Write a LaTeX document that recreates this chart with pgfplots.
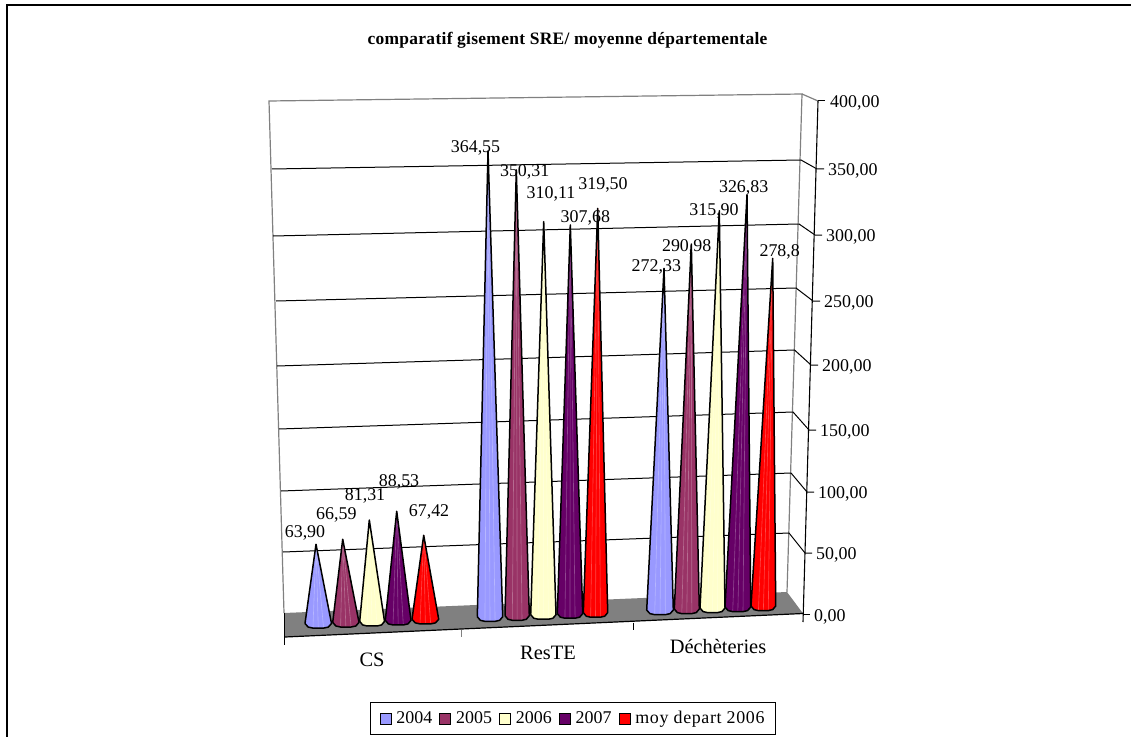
\documentclass[border=0pt]{standalone}
\usepackage{fontspec}
\setmainfont{Liberation Serif}
\usepackage{pgfplots}
\pgfplotsset{compat=1.18}

\definecolor{c2004}{HTML}{9999FF}
\definecolor{c2005}{HTML}{993366}
\definecolor{c2006}{HTML}{FFFFCC}
\definecolor{c2007}{HTML}{660066}
\definecolor{cmoy}{HTML}{FF0000}
\definecolor{wallgray}{HTML}{808080}

\newcommand{\lab}{\fontsize{18}{20}\selectfont}
\newcommand{\catlab}{\fontsize{20.5}{22}\selectfont}

\pgfplotsset{
  flat/.style={
    scale only axis, width=1131bp, height=737bp, axis lines=none,
    xmin=0, xmax=1131, clip=false, ticks=none
  }
}

% one cone: colour, pixel row of value 0, base left, base right, tip x, value,
% label text, label x, label row
\newcommand{\cone}[9]{%
  \pgfmathsetmacro\csh{613-#2}%
  \pgfmathsetmacro\cw{#4-#3}%
  \pgfmathsetmacro\cyc{623.5-0.0393*((#3+#4)/2-318)}%
  \pgfmathsetmacro\cb{(#2-\cyc)/1.28}%
  \pgfmathsetmacro\cbm{\cb-2.8}%
  \pgfmathsetmacro\cbl{\cb-3.6}%
  \pgfmathsetmacro\xa{#3+0.12*\cw}%
  \pgfmathsetmacro\xb{#3+0.30*\cw}%
  \pgfmathsetmacro\xc{#3+0.70*\cw}%
  \pgfmathsetmacro\xd{#3+0.88*\cw}%
  \pgfmathsetmacro\xm{#3+0.50*\cw}%
  \edef\tmp{\noexpand\addplot[forget plot, draw=none, fill=#1, yshift=\csh bp] coordinates {
    (#3,\cb) (\xa,\cbm) (\xb,\cbl) (\xc,\cbl) (\xd,\cbm) (#4,\cb) (#5,#6) (#3,\cb)};
    \noexpand\addplot[forget plot, draw=#1!72!white, line width=0.6bp, yshift=\csh bp] coordinates {
    (\xb,\cbl) (#5,#6)};
    \noexpand\addplot[forget plot, draw=#1!72!white, line width=0.6bp, yshift=\csh bp] coordinates {
    (\xm,\cbl) (#5,#6)};
    \noexpand\addplot[forget plot, draw=#1!72!white, line width=0.6bp, yshift=\csh bp] coordinates {
    (\xc,\cbl) (#5,#6)};
    \noexpand\addplot[forget plot, draw=black, line width=1.5bp, line join=round, yshift=\csh bp] coordinates {
    (#3,\cb) (\xa,\cbm) (\xb,\cbl) (\xc,\cbl) (\xd,\cbm) (#4,\cb) (#5,#6) (#3,\cb)};}%
  \tmp
  \node[font=\lab, inner sep=0pt] at (axis cs:#8,{(613-#9-1.5)/1.28}) {#7};
}

\begin{document}
\begin{tikzpicture}
\useasboundingbox (0,0) rectangle (1131bp,737bp);

% frame, walls, floor, grid and right hand axis, in pixels of the picture
\begin{axis}[flat, ymin=0, ymax=737, y dir=reverse]
\addplot[draw=black, line width=1.7bp] coordinates {(7,738) (7,5) (1132,5)};
\addplot[draw=none, fill=wallgray] coordinates {(284,613) (787,592) (803,613.5) (285,637) (284,613)};
\addplot[draw=wallgray, line width=1.2bp] coordinates {(284,613) (269,101) (802,94) (787,592)};
\addplot[draw=wallgray, line width=1.2bp] coordinates {(802,94) (818,101)};
\addplot[draw=black, line width=1bp] coordinates {(272,169) (801,160) (817,169) (824,169)};
\addplot[draw=black, line width=1bp] coordinates {(273,236) (799,224) (815,235) (822,235)};
\addplot[draw=black, line width=1bp] coordinates {(276,301) (796,288) (813,301) (820,301)};
\addplot[draw=black, line width=1bp] coordinates {(277,366) (794.5,350) (811,365) (818,365)};
\addplot[draw=black, line width=1bp] coordinates {(279,429) (793,412) (809,430) (816,430)};
\addplot[draw=black, line width=1bp] coordinates {(281,491) (791,473) (807,492) (814,492)};
\addplot[draw=black, line width=1bp] coordinates {(283,552) (789,533) (805,553) (812,553)};
\addplot[draw=black, line width=1bp] coordinates {(818,101) (825,101)};
\addplot[draw=black, line width=1bp] coordinates {(803,614) (810,614)};
\addplot[draw=black, line width=1.1bp] coordinates {(818,101) (803,622)};
\addplot[draw=black, line width=1.1bp] coordinates {(284.5,613) (284.5,645)};
\addplot[draw=black, line width=1.2bp] coordinates {(285,637) (803,613.5)};
\addplot[draw=wallgray, line width=1bp] coordinates {(461,629.5) (461,637)};
\addplot[draw=black, line width=1bp] coordinates {(633,622.5) (633,630)};

\node[font=\fontsize{17.5}{20}\selectfont\bfseries\addfontfeature{LetterSpace=1.7}, inner sep=0pt] at (axis cs:567.5,40) {comparatif gisement SRE/ moyenne départementale};
\node[font=\catlab, inner sep=0pt] at (axis cs:372,660) {CS};
\node[font=\catlab, inner sep=0pt] at (axis cs:548,653) {ResTE};
\node[font=\catlab, inner sep=0pt] at (axis cs:718,646) {Déchèteries};
\node[font=\lab, inner sep=0pt, anchor=west] at (axis cs:830,103) {400,00};
\node[font=\lab, inner sep=0pt, anchor=west] at (axis cs:828,171) {350,00};
\node[font=\lab, inner sep=0pt, anchor=west] at (axis cs:826,237) {300,00};
\node[font=\lab, inner sep=0pt, anchor=west] at (axis cs:824,303) {250,00};
\node[font=\lab, inner sep=0pt, anchor=west] at (axis cs:822,367) {200,00};
\node[font=\lab, inner sep=0pt, anchor=west] at (axis cs:820,432) {150,00};
\node[font=\lab, inner sep=0pt, anchor=west] at (axis cs:818,494) {100,00};
\node[font=\lab, inner sep=0pt, anchor=west] at (axis cs:816,555) {50,00};
\node[font=\lab, inner sep=0pt, anchor=west] at (axis cs:814,617) {0,00};
\end{axis}

% cones: y is the value, each cone raised or lowered to its place on the floor
\begin{axis}[flat, ymin=-96.875, ymax=478.90625,
  legend columns=5,
  legend style={at={(0.5066,0.0251)}, anchor=center, draw=black, line width=0.9bp,
    font=\lab, inner xsep=9bp, inner ysep=7bp,
    /tikz/every even column/.append style={column sep=5bp},
    /tikz/every odd column/.append style={column sep=3bp}},
  legend image code/.code={\fill[#1, draw=black, line width=0.9bp] (0bp,-5.5bp) rectangle (11bp,5.5bp);},
]
\addlegendimage{fill=c2004}\addlegendentry{2004}
\addlegendimage{fill=c2005}\addlegendentry{2005}
\addlegendimage{fill=c2006}\addlegendentry{2006}
\addlegendimage{fill=c2007}\addlegendentry{2007}
\addlegendimage{fill=cmoy}\addlegendentry{\addfontfeature{LetterSpace=3.5}moy depart 2006}

\cone{c2004}{626.1}{305}{331.5}{316}{63.90}{63,90}{305}{531.7}
\cone{c2005}{624.5}{332.7}{359}{342.7}{66.59}{66,59}{336.3}{513}
\cone{c2006}{624.1}{359.7}{384.5}{369.3}{81.31}{81,31}{365}{494}
\cone{c2007}{624.6}{385.3}{411}{396.7}{88.53}{88,53}{399}{480}
\cone{cmoy}{621.6}{412}{438.7}{423.7}{67.42}{67,42}{429}{510}

\cone{c2004}{617.6}{477.3}{502.7}{488}{364.55}{364,55}{475.5}{146}
\cone{c2005}{618.4}{505}{529.3}{516.3}{350.31}{350,31}{524.7}{170}
\cone{c2006}{618.6}{530.7}{556}{543.7}{310.11}{310,11}{551}{192.7}
\cone{c2007}{618.8}{557.3}{582.7}{570.3}{307.68}{307,68}{585.3}{216}
\cone{cmoy}{617.3}{583.3}{607.7}{597.7}{319.50}{319,50}{603}{183}

\cone{c2004}{616.9}{646.7}{673.3}{664}{272.33}{272,33}{656.3}{265}
\cone{c2005}{616.5}{674.3}{699.3}{691.3}{290.98}{290,98}{686.7}{245.7}
\cone{c2006}{615.1}{700}{725}{719.3}{315.90}{315,90}{714}{209}
\cone{c2007}{613.3}{725}{750.7}{747}{326.83}{326,83}{743.7}{186}
\cone{cmoy}{615.2}{751}{775.7}{772.7}{278.8}{278,8}{779.7}{250.7}
\end{axis}
\end{tikzpicture}
\end{document}
